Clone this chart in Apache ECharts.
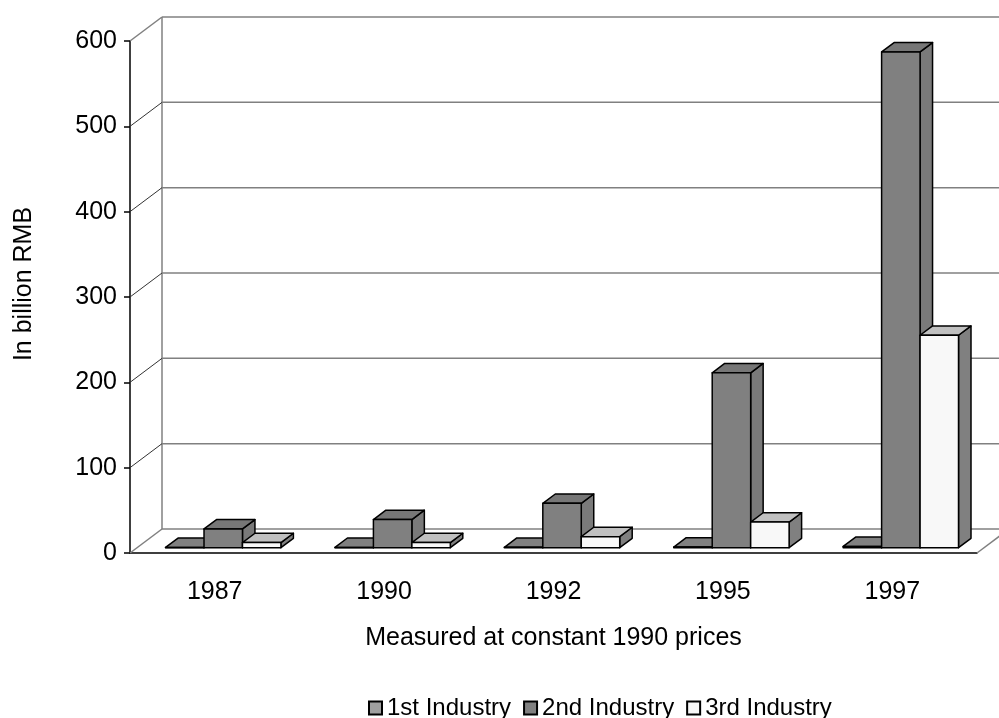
<!DOCTYPE html>
<html>
<head>
<meta charset="utf-8">
<script src="https://cdn.jsdelivr.net/npm/echarts@6/dist/echarts.min.js"></script>
<style>
    html, body { margin: 0; padding: 0; background: #fff; }
    #chart { width: 999px; height: 718px; }
</style>
</head>
<body>
<div id="chart"></div>
<script>
// data
const years = ['1987', '1990', '1992', '1995', '1997'];
const firstIndustry = [0.3, 0.4, 0.5, 0.8, 1.5];
const secondIndustry = [22, 33, 52, 205, 581];
const thirdIndustry = [6, 6, 13, 30, 249];
const yTicks = [0, 100, 200, 300, 400, 500, 600];

// fake 3d depth (pixels)
const DEPTH = [32, -24];
const FRONT = 0.22, BACK = 0.61;

const faces = [
    {front: '#a0a0a0', top: '#808080', side: '#808080'},
    {front: '#808080', top: '#777777', side: '#7a7a7a'},
    {front: '#f8f8f8', top: '#c0c0c0', side: '#808080'}
];

function barItem(idx) {
    return function (params, api) {
        let cat = api.value(0), val = api.value(1);
        let base = api.coord([cat, 0]);
        let top = api.coord([cat, val]);
        let bandW = api.size([1, 0])[0];
        let bw = bandW * 0.227;
        let fx = DEPTH[0] * FRONT, fy = DEPTH[1] * FRONT;
        let dx = DEPTH[0] * (BACK - FRONT), dy = DEPTH[1] * (BACK - FRONT);
        let x0 = base[0] + fx + 1.5 + (idx - 1.5) * bw;
        let x1 = x0 + bw;
        let yb = base[1] + fy, yt = top[1] + fy;
        let c = faces[idx];
        let line = {stroke: '#000', lineWidth: 1.5, lineJoin: 'round'};
        return {
            type: 'group',
            children: [
                {type: 'polygon', shape: {points: [[x1, yt], [x1, yb], [x1 + dx, yb + dy], [x1 + dx, yt + dy]]},
                    style: Object.assign({fill: c.side}, line)},
                {type: 'polygon', shape: {points: [[x0, yt], [x1, yt], [x1 + dx, yt + dy], [x0 + dx, yt + dy]]},
                    style: Object.assign({fill: c.top}, line)},
                {type: 'rect', shape: {x: x0, y: yt, width: bw, height: yb - yt},
                    style: Object.assign({fill: c.front}, line)}
            ]
        };
    };
}

function frameItem(params, api) {
    let cs = params.coordSys;
    let v = api.value(1);
    let p = api.coord([0, v]);
    let y = p[1];
    let edge = (v === 0 || v === 600);
    let children = [
        {type: 'line', shape: {x1: cs.x, y1: y, x2: cs.x + DEPTH[0], y2: y + DEPTH[1]},
            style: {stroke: edge ? '#808080' : '#333', lineWidth: edge ? 1.5 : 1}},
        {type: 'line', shape: {x1: cs.x + DEPTH[0], y1: y + DEPTH[1], x2: cs.x + cs.width + DEPTH[0], y2: y + DEPTH[1]},
            style: {stroke: '#808080', lineWidth: 1.5}}
    ];
    if (v === 0) {
        let yTop = api.coord([0, 600])[1];
        children.push({type: 'line', shape: {x1: cs.x + DEPTH[0], y1: y + DEPTH[1], x2: cs.x + DEPTH[0], y2: yTop + DEPTH[1]},
            style: {stroke: '#808080', lineWidth: 1.5}});
        children.push({type: 'line', shape: {x1: cs.x + cs.width, y1: y, x2: cs.x + cs.width + DEPTH[0], y2: y + DEPTH[1]},
            style: {stroke: '#808080', lineWidth: 1.5}});
    }
    return {type: 'group', children: children};
}

let chart = echarts.init(document.getElementById('chart'), null, {renderer: 'canvas'});
const font = 'Liberation Sans, Arial, sans-serif';
const fs = 25;

const option = {
    backgroundColor: '#fff',
    animation: false,
    textStyle: {fontFamily: font},
    grid: {left: 130, right: 22, top: 41, bottom: 165},
    legend: {
        left: 368,
        top: 696,
        padding: 0,
        itemWidth: 13,
        itemHeight: 13,
        itemGap: 12,
        icon: 'rect',
        textStyle: {fontSize: 24, color: '#000', fontFamily: font, lineHeight: 22},
        data: ['1st Industry', '2nd Industry', '3rd Industry']
    },
    xAxis: {
        type: 'category',
        data: years,
        name: 'Measured at constant 1990 prices',
        nameLocation: 'middle',
        nameGap: 73,
        nameTextStyle: {fontSize: fs, color: '#000', fontFamily: font},
        axisLine: {lineStyle: {color: '#000', width: 1.5}},
        axisTick: {length: 9, lineStyle: {color: '#000', width: 1.5}},
        axisLabel: {fontSize: fs, color: '#000', margin: 27, fontFamily: font},
        splitLine: {show: false}
    },
    yAxis: {
        type: 'value',
        min: 0,
        max: 600,
        interval: 100,
        axisLine: {show: true, lineStyle: {color: '#000', width: 1.5}},
        axisTick: {show: true, length: 6, lineStyle: {color: '#000', width: 1.5}},
        axisLabel: {fontSize: fs, color: '#000', margin: 13, fontFamily: font},
        splitLine: {show: false}
    },
    graphic: [{
        type: 'text',
        x: 24,
        y: 284,
        rotation: Math.PI / 2,
        style: {text: 'In billion RMB', fontSize: fs, fill: '#000', font: fs + 'px ' + font,
            align: 'center', verticalAlign: 'middle'}
    }],
    series: [
        {
            type: 'custom',
            name: 'frame',
            silent: true,
            z: 1,
            clip: false,
            renderItem: frameItem,
            encode: {x: 0, y: 1},
            data: yTicks.map(v => [0, v])
        },
        {
            type: 'custom', name: '1st Industry', z: 3, clip: false,
            renderItem: barItem(0), encode: {x: 0, y: 1},
            itemStyle: {color: faces[0].front, borderColor: '#000', borderWidth: 1},
            data: firstIndustry.map((v, i) => [i, v])
        },
        {
            type: 'custom', name: '2nd Industry', z: 3, clip: false,
            renderItem: barItem(1), encode: {x: 0, y: 1},
            itemStyle: {color: faces[1].front, borderColor: '#000', borderWidth: 1},
            data: secondIndustry.map((v, i) => [i, v])
        },
        {
            type: 'custom', name: '3rd Industry', z: 3, clip: false,
            renderItem: barItem(2), encode: {x: 0, y: 1},
            itemStyle: {color: faces[2].front, borderColor: '#000', borderWidth: 1},
            data: thirdIndustry.map((v, i) => [i, v])
        }
    ]
};
chart.setOption(option);
window.addEventListener('resize', function () {
    chart.resize();
});
</script>
</body>
</html>
